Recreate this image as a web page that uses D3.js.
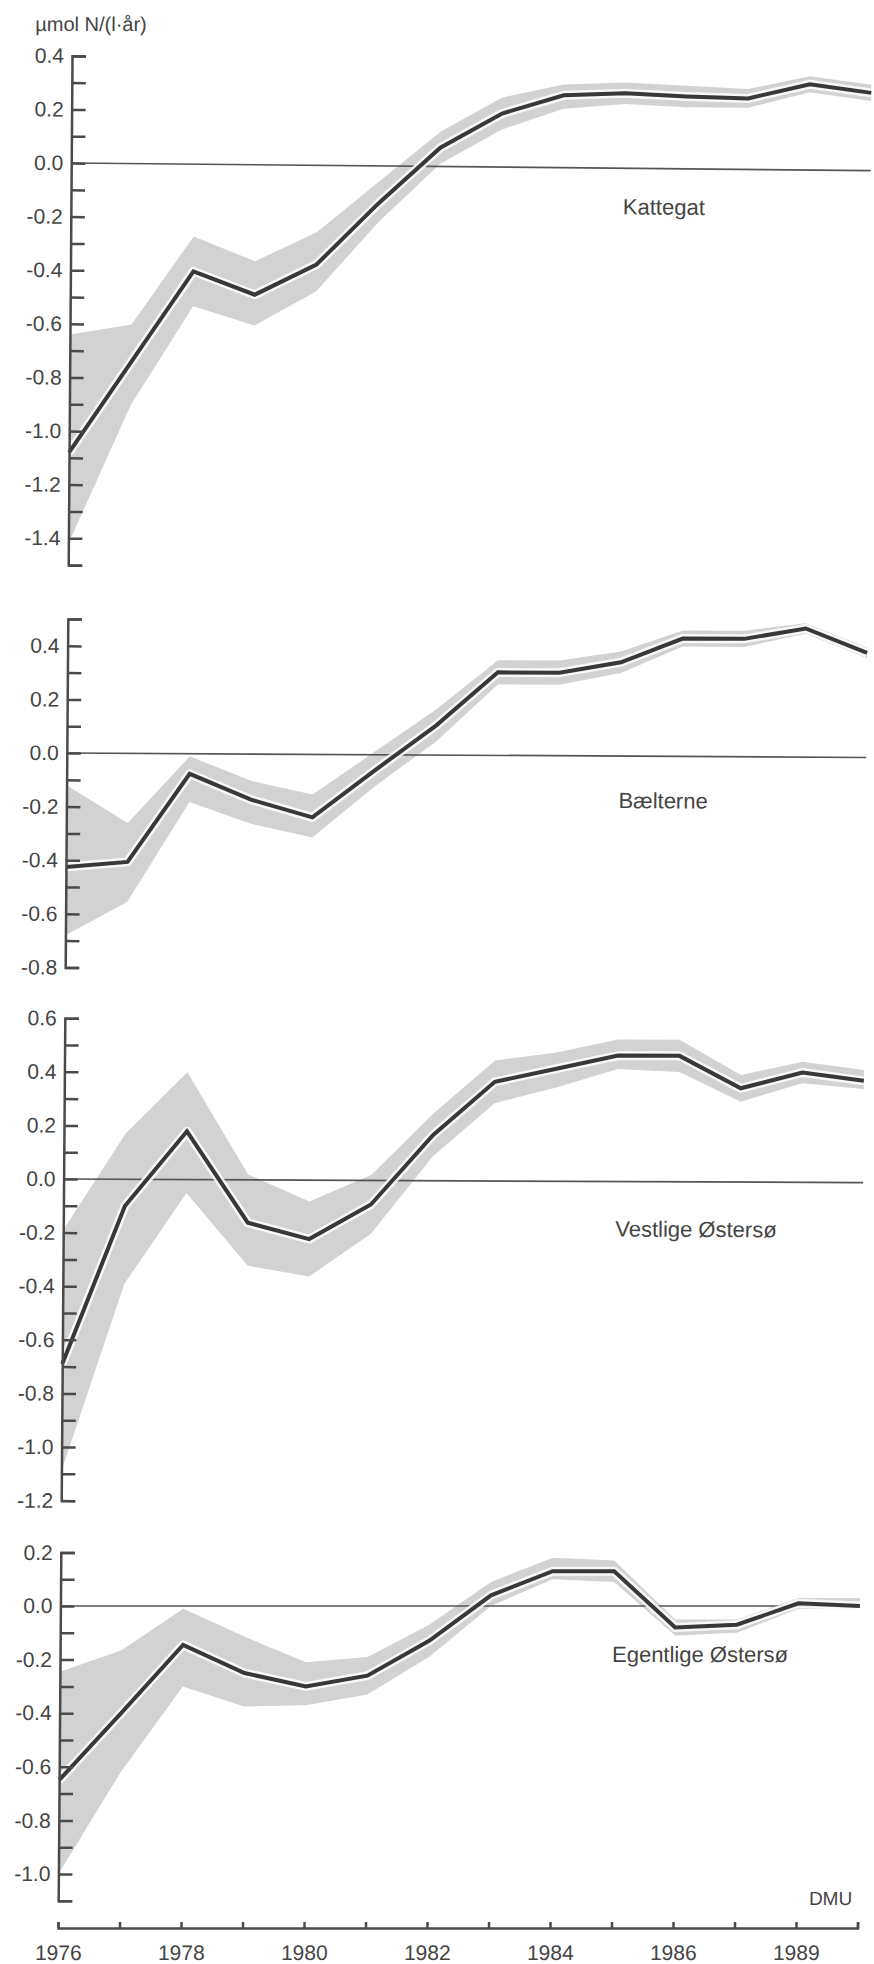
<!DOCTYPE html>
<html>
<head>
<meta charset="utf-8">
<script src="https://cdn.jsdelivr.net/npm/d3@7"></script>
<style>
  html, body { margin: 0; padding: 0; background: #fff; }
  svg { display: block; }
  text { font-family: "Liberation Sans", Arial, Helvetica, sans-serif; fill: #444; }
</style>
</head>
<body>
<svg id="chart" width="874" height="1964"></svg>
<script>
// ---------------- DATA ----------------
const years = [1976, 1977, 1978, 1979, 1980, 1981, 1982, 1983, 1984, 1985, 1986, 1987, 1988, 1989];

const panelNames = ["Kattegat", "Bælterne", "Vestlige Østersø", "Egentlige Østersø"];

const kattegatMean  = [-1.08, -0.74, -0.40, -0.485, -0.37, -0.14, 0.07, 0.20, 0.27, 0.28, 0.27, 0.265, 0.32, 0.29];
const kattegatUpper = [-0.64, -0.60, -0.27, -0.36, -0.25, -0.06, 0.13, 0.26, 0.31, 0.32, 0.31, 0.30, 0.35, 0.32];
const kattegatLower = [-1.42, -0.90, -0.53, -0.60, -0.47, -0.21, 0.01, 0.14, 0.22, 0.24, 0.23, 0.23, 0.29, 0.26];

const baelterneMean  = [-0.425, -0.405, -0.075, -0.17, -0.235, -0.06, 0.11, 0.31, 0.31, 0.35, 0.44, 0.44, 0.48, 0.39];
const baelterneUpper = [-0.12, -0.26, -0.01, -0.10, -0.15, 0.01, 0.17, 0.355, 0.355, 0.39, 0.47, 0.47, 0.50, 0.41];
const baelterneLower = [-0.68, -0.555, -0.18, -0.26, -0.31, -0.12, 0.05, 0.265, 0.265, 0.31, 0.41, 0.41, 0.46, 0.37];

const vestligeMean  = [-0.69, -0.10, 0.18, -0.16, -0.22, -0.09, 0.17, 0.37, 0.42, 0.47, 0.47, 0.35, 0.41, 0.38];
const vestligeUpper = [-0.19, 0.17, 0.40, 0.02, -0.08, 0.02, 0.25, 0.45, 0.48, 0.53, 0.53, 0.40, 0.45, 0.42];
const vestligeLower = [-1.09, -0.39, -0.05, -0.32, -0.36, -0.20, 0.09, 0.29, 0.35, 0.42, 0.41, 0.30, 0.37, 0.35];

const egentligeMean  = [-0.65, -0.40, -0.145, -0.25, -0.30, -0.26, -0.13, 0.04, 0.13, 0.13, -0.08, -0.07, 0.01, 0.00];
const egentligeUpper = [-0.245, -0.165, -0.01, -0.115, -0.21, -0.19, -0.07, 0.09, 0.18, 0.17, -0.05, -0.05, 0.03, 0.03];
const egentligeLower = [-1.00, -0.62, -0.30, -0.375, -0.37, -0.33, -0.19, 0.00, 0.10, 0.09, -0.11, -0.10, -0.01, -0.01];

// y-axis extents and labelled ticks per panel
const kattegatDomain  = [-1.5, 0.4];
const baelterneDomain = [-0.8, 0.5];
const vestligeDomain  = [-1.2, 0.6];
const egentligeDomain = [-1.1, 0.2];

const kattegatTicks  = [0.4, 0.2, 0.0, -0.2, -0.4, -0.6, -0.8, -1.0, -1.2, -1.4];
const baelterneTicks = [0.4, 0.2, 0.0, -0.2, -0.4, -0.6, -0.8];
const vestligeTicks  = [0.6, 0.4, 0.2, 0.0, -0.2, -0.4, -0.6, -0.8, -1.0, -1.2];
const egentligeTicks = [0.2, 0.0, -0.2, -0.4, -0.6, -0.8, -1.0];

// x-axis labels (the original prints "1989" at the 1988 tick)
const xLabelYears = [1976, 1978, 1980, 1982, 1984, 1986, 1988];
const xLabelTexts = ["1976", "1978", "1980", "1982", "1984", "1986", "1989"];

const unitLabel = "µmol N/(l·år)";
const sourceLabel = "DMU";

// ---------------- LAYOUT ----------------
const panels = [
  { name: panelNames[0], mean: kattegatMean,  upper: kattegatUpper,  lower: kattegatLower,  domain: kattegatDomain,  ticks: kattegatTicks },
  { name: panelNames[1], mean: baelterneMean, upper: baelterneUpper, lower: baelterneLower, domain: baelterneDomain, ticks: baelterneTicks },
  { name: panelNames[2], mean: vestligeMean,  upper: vestligeUpper,  lower: vestligeLower,  domain: vestligeDomain,  ticks: vestligeTicks },
  { name: panelNames[3], mean: egentligeMean, upper: egentligeUpper, lower: egentligeLower, domain: egentligeDomain, ticks: egentligeTicks }
];
const zeroY = [163, 753, 1179, 1606];           // pixel row of 0.0 for each panel
const panelSlope = [0.0095, 0.0056, 0.0046, 0.0]; // scan tilt of each panel
const nameOffset = [46, 52, 55, 56];             // name baseline below zero line
const pxPerUnit = 268;
const axisX = 58;
const xAxisY = 1928;
const shear = 0.0075; // scanned page lean

const AXIS = "#4a4a4a";
const LINE = "#383838";
const BAND = "#d2d2d2";
const FONT = "'Liberation Sans', Arial, Helvetica, sans-serif";

const svg = d3.select("#chart");
const root = svg.append("g")
  .attr("transform", `translate(${shear * xAxisY},0) skewX(${-Math.atan(shear) * 180 / Math.PI})`);

const x = d3.scaleLinear().domain([1976, 1989]).range([axisX, 857.5]);

const fmt = d => (d < 0 ? "-" : "") + Math.abs(d).toFixed(1);

panels.forEach((p, i) => {
  const z = zeroY[i];
  const s = panelSlope[i];
  const g = root.append("g")
    .attr("transform", `translate(0,${-axisX * s}) skewY(${Math.atan(s) * 180 / Math.PI})`);

  const y = d3.scaleLinear()
    .domain(p.domain)
    .range([z - p.domain[0] * pxPerUnit, z - p.domain[1] * pxPerUnit]);

  const rows = years.map((yr, j) => ({ yr, m: p.mean[j], hi: p.upper[j], lo: p.lower[j] }));

  // uncertainty band
  g.append("path")
    .datum(rows)
    .attr("fill", BAND)
    .attr("d", d3.area().x(d => x(d.yr)).y0(d => y(d.lo)).y1(d => y(d.hi)));

  // zero line
  g.append("line")
    .attr("x1", x(1976)).attr("x2", x(1989))
    .attr("y1", y(0)).attr("y2", y(0))
    .attr("stroke", "#555").attr("stroke-width", 1.7);

  // mean line with white halo
  const line = d3.line().x(d => x(d.yr)).y(d => y(d.m));
  g.append("path").datum(rows)
    .attr("fill", "none").attr("stroke", "#fff").attr("stroke-opacity", 0.85)
    .attr("stroke-width", 9).attr("stroke-linejoin", "round")
    .attr("d", line);
  g.append("path").datum(rows)
    .attr("fill", "none").attr("stroke", LINE)
    .attr("stroke-width", 4).attr("stroke-linejoin", "miter")
    .attr("d", line);

  // y axis: ticks every 0.1 pointing inward
  const minor = d3.range(Math.round(p.domain[0] * 10), Math.round(p.domain[1] * 10) + 1).map(v => v / 10);
  const ax = g.append("g").attr("transform", `translate(${axisX},0)`)
    .call(d3.axisRight(y).tickValues(minor).tickSize(14).tickSizeOuter(14).tickFormat(""));
  ax.selectAll("path, line").attr("stroke", AXIS).attr("stroke-width", 2.5);

  // y labels
  const lab = g.append("g").attr("transform", `translate(${axisX},0)`)
    .call(d3.axisLeft(y).tickValues(p.ticks).tickSize(0).tickPadding(8).tickFormat(fmt));
  lab.select(".domain").remove();
  lab.selectAll("text")
    .style("font-family", FONT)
    .attr("font-size", 21).attr("fill", "#444");

  // panel name
  g.append("text")
    .attr("x", 610).attr("y", z + nameOffset[i])
    .attr("font-size", 22)
    .text(p.name);
});

// x axis
const xa = root.append("g").attr("transform", `translate(0,${xAxisY})`)
  .call(d3.axisBottom(x).tickValues(years).tickSize(-6).tickSizeOuter(-6).tickPadding(17)
    .tickFormat(d => { const k = xLabelYears.indexOf(d); return k >= 0 ? xLabelTexts[k] : ""; }));
xa.selectAll("path, line").attr("stroke", AXIS).attr("stroke-width", 2.5);
xa.selectAll("text")
  .style("font-family", FONT)
  .attr("font-size", 21).attr("fill", "#444");

// unit label and source
root.append("text").attr("x", 21).attr("y", 31).attr("font-size", 20).text(unitLabel);
root.append("text").attr("x", 852).attr("y", 1905).attr("text-anchor", "end")
  .attr("font-size", 19).text(sourceLabel);
</script>
</body>
</html>
